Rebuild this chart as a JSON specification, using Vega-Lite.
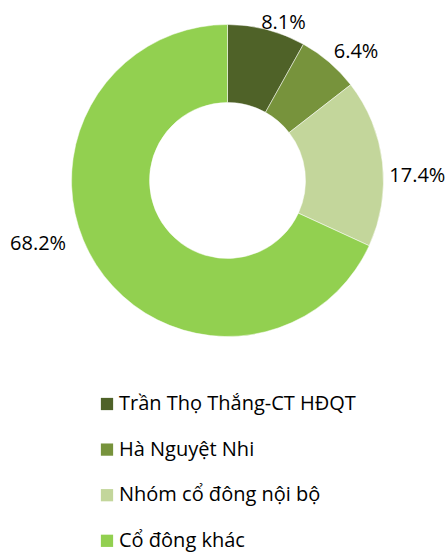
{
  "$schema": "https://vega.github.io/schema/vega-lite/v6.json",
  "width": 447,
  "height": 361,
  "padding": {"left": 4, "top": 0, "right": 0, "bottom": 192},
  "autosize": "none",
  "background": "white",
  "config": {"view": {"stroke": null}, "font": "Open Sans"},
  "data": {"values": [
    {"group": "Trần Thọ Thắng-CT HĐQT", "share": 0.081, "rank": 1},
    {"group": "Hà Nguyệt Nhi", "share": 0.064, "rank": 2},
    {"group": "Nhóm cổ đông nội bộ", "share": 0.174, "rank": 3},
    {"group": "Cổ đông khác", "share": 0.682, "rank": 4}
  ]},
  "encoding": {
    "theta": {"field": "share", "type": "quantitative", "stack": true},
    "order": {"field": "rank", "type": "quantitative"}
  },
  "layer": [
    {
      "mark": {"type": "arc", "radius": 156, "innerRadius": 78, "stroke": "white", "strokeWidth": 0.5},
      "encoding": {
        "color": {
          "field": "group", "type": "nominal",
          "scale": {
            "domain": ["Trần Thọ Thắng-CT HĐQT", "Hà Nguyệt Nhi", "Nhóm cổ đông nội bộ", "Cổ đông khác"],
            "range": ["#4F6228", "#77933C", "#C3D69B", "#92D050"]
          },
          "legend": {
            "title": null,
            "orient": "none",
            "legendX": 93,
            "legendY": 394,
            "symbolType": "square",
            "symbolSize": 150,
            "symbolStrokeWidth": 0,
            "labelFontSize": 20,
            "labelFont": "Open Sans",
            "labelColor": "#000000",
            "labelOffset": 2,
            "rowPadding": 25.6,
            "labelLimit": 400,
            "padding": 0
          }
        }
      }
    },
    {
      "mark": {"type": "text", "radius": 163, "dx": 15, "dy": 0, "fontSize": 20, "baseline": "middle", "align": "center", "color": "#000"},
      "encoding": {"text": {"condition": {"test": "datum.rank == 1", "field": "share", "type": "quantitative", "format": ".1%"}, "value": ""}}
    },
    {
      "mark": {"type": "text", "radius": 182, "dx": 10, "dy": 10, "fontSize": 20, "baseline": "middle", "align": "center", "color": "#000"},
      "encoding": {"text": {"condition": {"test": "datum.rank == 2", "field": "share", "type": "quantitative", "format": ".1%"}, "value": ""}}
    },
    {
      "mark": {"type": "text", "radius": 182, "dx": 9, "dy": 16, "fontSize": 20, "baseline": "middle", "align": "center", "color": "#000"},
      "encoding": {"text": {"condition": {"test": "datum.rank == 3", "field": "share", "type": "quantitative", "format": ".1%"}, "value": ""}}
    },
    {
      "mark": {"type": "text", "radius": 200, "dx": -21, "dy": -44, "fontSize": 20, "baseline": "middle", "align": "center", "color": "#000"},
      "encoding": {"text": {"condition": {"test": "datum.rank == 4", "field": "share", "type": "quantitative", "format": ".1%"}, "value": ""}}
    }
  ]
}
